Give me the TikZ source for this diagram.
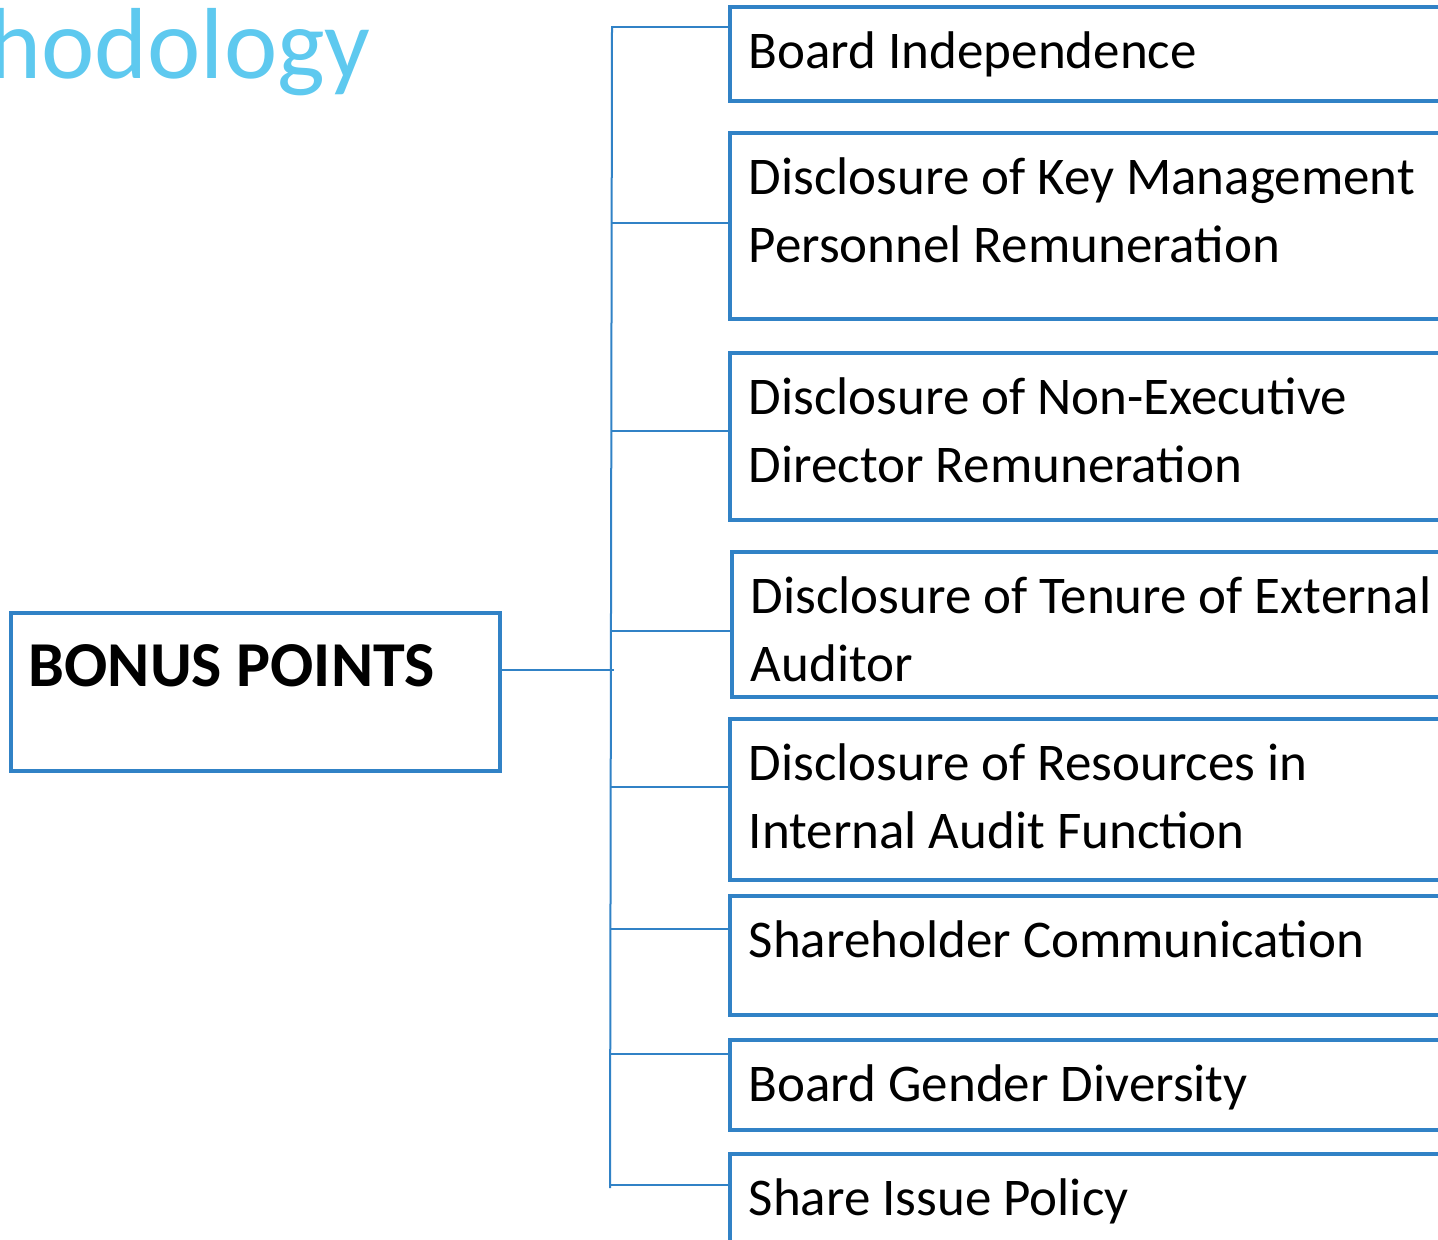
\documentclass[tikz,border=0pt]{standalone}
\usepackage{fontspec}
\setmainfont{Carlito}
\usetikzlibrary{positioning}
\definecolor{boxblue}{RGB}{49,130,198}
\definecolor{titleblue}{RGB}{94,201,239}
\newcommand{\itemtext}[2]{\parbox[c][#1][t]{400pt}{\raggedright\rule{0pt}{31pt}#2}}
\tikzset{
    item/.style={
           rectangle,
           draw=boxblue, line width=1.75pt,
           anchor=north west,
           inner xsep=9.5pt, inner ysep=0pt,
           font=\fontsize{26.5}{34}\selectfont,
           },
    head/.style={
           rectangle,
           draw=boxblue, line width=1.75pt,
           anchor=north west,
           inner xsep=9pt, inner ysep=0pt,
           font=\fontsize{32}{38}\selectfont\bfseries,
           },
    link/.style={
           draw=boxblue, line width=1pt,
           },
}

\begin{document}
\begin{tikzpicture}[x=0.5pt, y=-0.5pt]
	\clip (0,0) rectangle (1438,1239);
	
	\node[anchor=base west, inner sep=0pt, text=titleblue, font=\fontsize{50.5}{60}\selectfont] (title) at (-12,78) {hodology};
	
	\node[head] (bonus) at (9,611) {\parbox[c][79pt][t]{226.5pt}{\rule{0pt}{37pt}BONUS POINTS}};
	
	\node[item] (b1) at (728,5) {\itemtext{47pt}{Board Independence}};
	\node[item] (b2) at (728,131) {\itemtext{93pt}{Disclosure of Key Management\\Personnel Remuneration}};
	\node[item] (b3) at (728,351) {\itemtext{83.5pt}{Disclosure of Non-Executive\\Director Remuneration}};
	\node[item] (b4) at (730,550) {\itemtext{72.5pt}{Disclosure of Tenure of External\\Auditor}};
	\node[item] (b5) at (728,717) {\itemtext{80.5pt}{Disclosure of Resources in\\Internal Audit Function}};
	\node[item] (b6) at (728,894) {\itemtext{59.5pt}{Shareholder Communication}};
	\node[item] (b7) at (728,1038) {\itemtext{45pt}{Board Gender Diversity}};
	\node[item] (b8) at (728,1152) {\itemtext{73.5pt}{Share Issue Policy}};
	
	% bus and taps
	\coordinate (bustop) at (612,26);
	\coordinate (busbot) at (610,1188);
	\coordinate (hub) at (614,670);
	\coordinate (tap1) at (612,27);
	\coordinate (tap2) at (612,223);
	\coordinate (tap3) at (612,431);
	\coordinate (tap4) at (612,631);
	\coordinate (tap5) at (611,787);
	\coordinate (tap6) at (611,929);
	\coordinate (tap7) at (611,1054);
	\coordinate (tap8) at (610,1185);
	
	\path[link]	(bustop) edge (busbot)
				(bonus.east |- hub) edge (hub);
	
	\path[link]	(tap1) edge (tap1 -| b1.west)
				(tap2) edge (tap2 -| b2.west)
				(tap3) edge (tap3 -| b3.west)
				(tap4) edge (tap4 -| b4.west)
				(tap5) edge (tap5 -| b5.west)
				(tap6) edge (tap6 -| b6.west)
				(tap7) edge (tap7 -| b7.west)
				(tap8) edge (tap8 -| b8.west);
	
\end{tikzpicture}
\end{document}
